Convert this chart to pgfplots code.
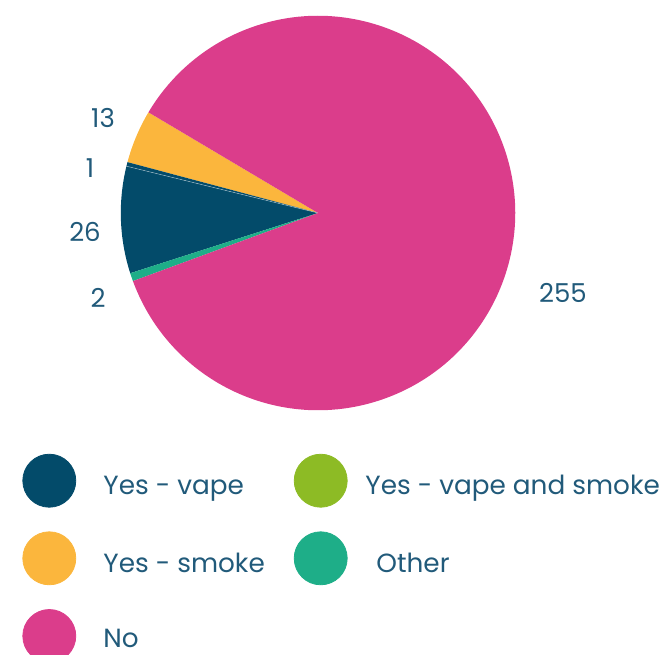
\documentclass[border=0pt]{standalone}
\usepackage{pgfplots}
\pgfplotsset{compat=1.18}
\usepackage{fontspec}
\setmainfont{Poppins}
\newfontfamily\pop{Poppins}
\definecolor{cvape}{HTML}{034B6A}
\definecolor{cboth}{HTML}{8DBB25}
\definecolor{csmoke}{HTML}{FBB63D}
\definecolor{cother}{HTML}{1EAE88}
\definecolor{cno}{HTML}{DB3D8B}
\definecolor{ctext}{HTML}{215A7A}
% slice values, counter-clockwise from the upper-left edge of the yellow slice
\def\vSmoke{13}
\def\vOne{1}
\def\vVape{26}
\def\vOther{2}
\def\vNo{255}
\pgfmathsetmacro{\tot}{\vSmoke+\vOne+\vVape+\vOther+\vNo}
\pgfmathsetmacro{\unit}{360/\tot}
\pgfmathsetmacro{\aA}{149.3}
\pgfmathsetmacro{\aB}{\aA+\unit*\vSmoke}
\pgfmathsetmacro{\aC}{\aB+\unit*\vOne}
\pgfmathsetmacro{\aD}{\aC+\unit*\vVape}
\pgfmathsetmacro{\aE}{\aD+\unit*\vOther}
\pgfmathsetmacro{\aF}{\aE+\unit*\vNo}
\newcommand{\slice}[3]{\fill[#3] (axis cs:318,-213) -- ++(#1:98.6pt) arc[start angle=#1, end angle=#2, radius=98.6pt] -- cycle;}
\tikzset{lab/.style={text=ctext, inner sep=0pt, font=\pop\fontsize{13.15}{16}\selectfont}}
\begin{document}
\begin{tikzpicture}
\path[use as bounding box] (0,0) rectangle (331pt,327pt);
\begin{axis}[at={(0,0)}, anchor=south west, scale only axis,
  width=331pt, height=327pt, xmin=0, xmax=662, ymin=-654, ymax=0,
  hide axis, clip=false]
\slice{\aA}{\aB}{csmoke}
\slice{\aB}{\aC}{cvape}
\slice{\aC}{\aD}{cvape}
\slice{\aD}{\aE}{cother}
\slice{\aE}{\aF}{cno}
\draw[white, opacity=0.5, line width=0.25pt] (axis cs:318,-213) -- ++(\aC:98.6pt);
% slice labels
\node[lab, font=\pop\fontsize{13}{16}\selectfont] at (axis cs:103,-118) {13};
\node[lab, font=\pop\fontsize{13}{16}\selectfont] at (axis cs:90,-168) {1};
\node[lab, font=\pop\fontsize{13}{16}\selectfont] at (axis cs:85,-232) {26};
\node[lab, font=\pop\fontsize{13}{16}\selectfont] at (axis cs:98,-298) {2};
\node[lab, font=\pop\fontsize{13}{16}\selectfont] at (axis cs:563,-293) {255};
% legend markers
\addplot[only marks, mark=*, mark size=13.25pt, color=cvape] coordinates {(49.3,-480.7)};
\addplot[only marks, mark=*, mark size=13.25pt, color=csmoke] coordinates {(49.3,-558.3)};
\addplot[only marks, mark=*, mark size=13.25pt, color=cno] coordinates {(49.3,-636)};
\addplot[only marks, mark=*, mark size=13.25pt, color=cboth] coordinates {(320.7,-480.7)};
\addplot[only marks, mark=*, mark size=13.25pt, color=cother] coordinates {(320.7,-558.3)};
% legend texts
\node[lab, anchor=base west] at (axis cs:103,-494) {Yes - vape};
\node[lab, anchor=base west] at (axis cs:103,-572) {Yes - smoke};
\node[lab, anchor=base west] at (axis cs:103,-647) {No};
\node[lab, anchor=base west] at (axis cs:365,-494) {Yes - vape and smoke};
\node[lab, anchor=base west] at (axis cs:376,-572) {Other};
\end{axis}
\end{tikzpicture}
\end{document}
